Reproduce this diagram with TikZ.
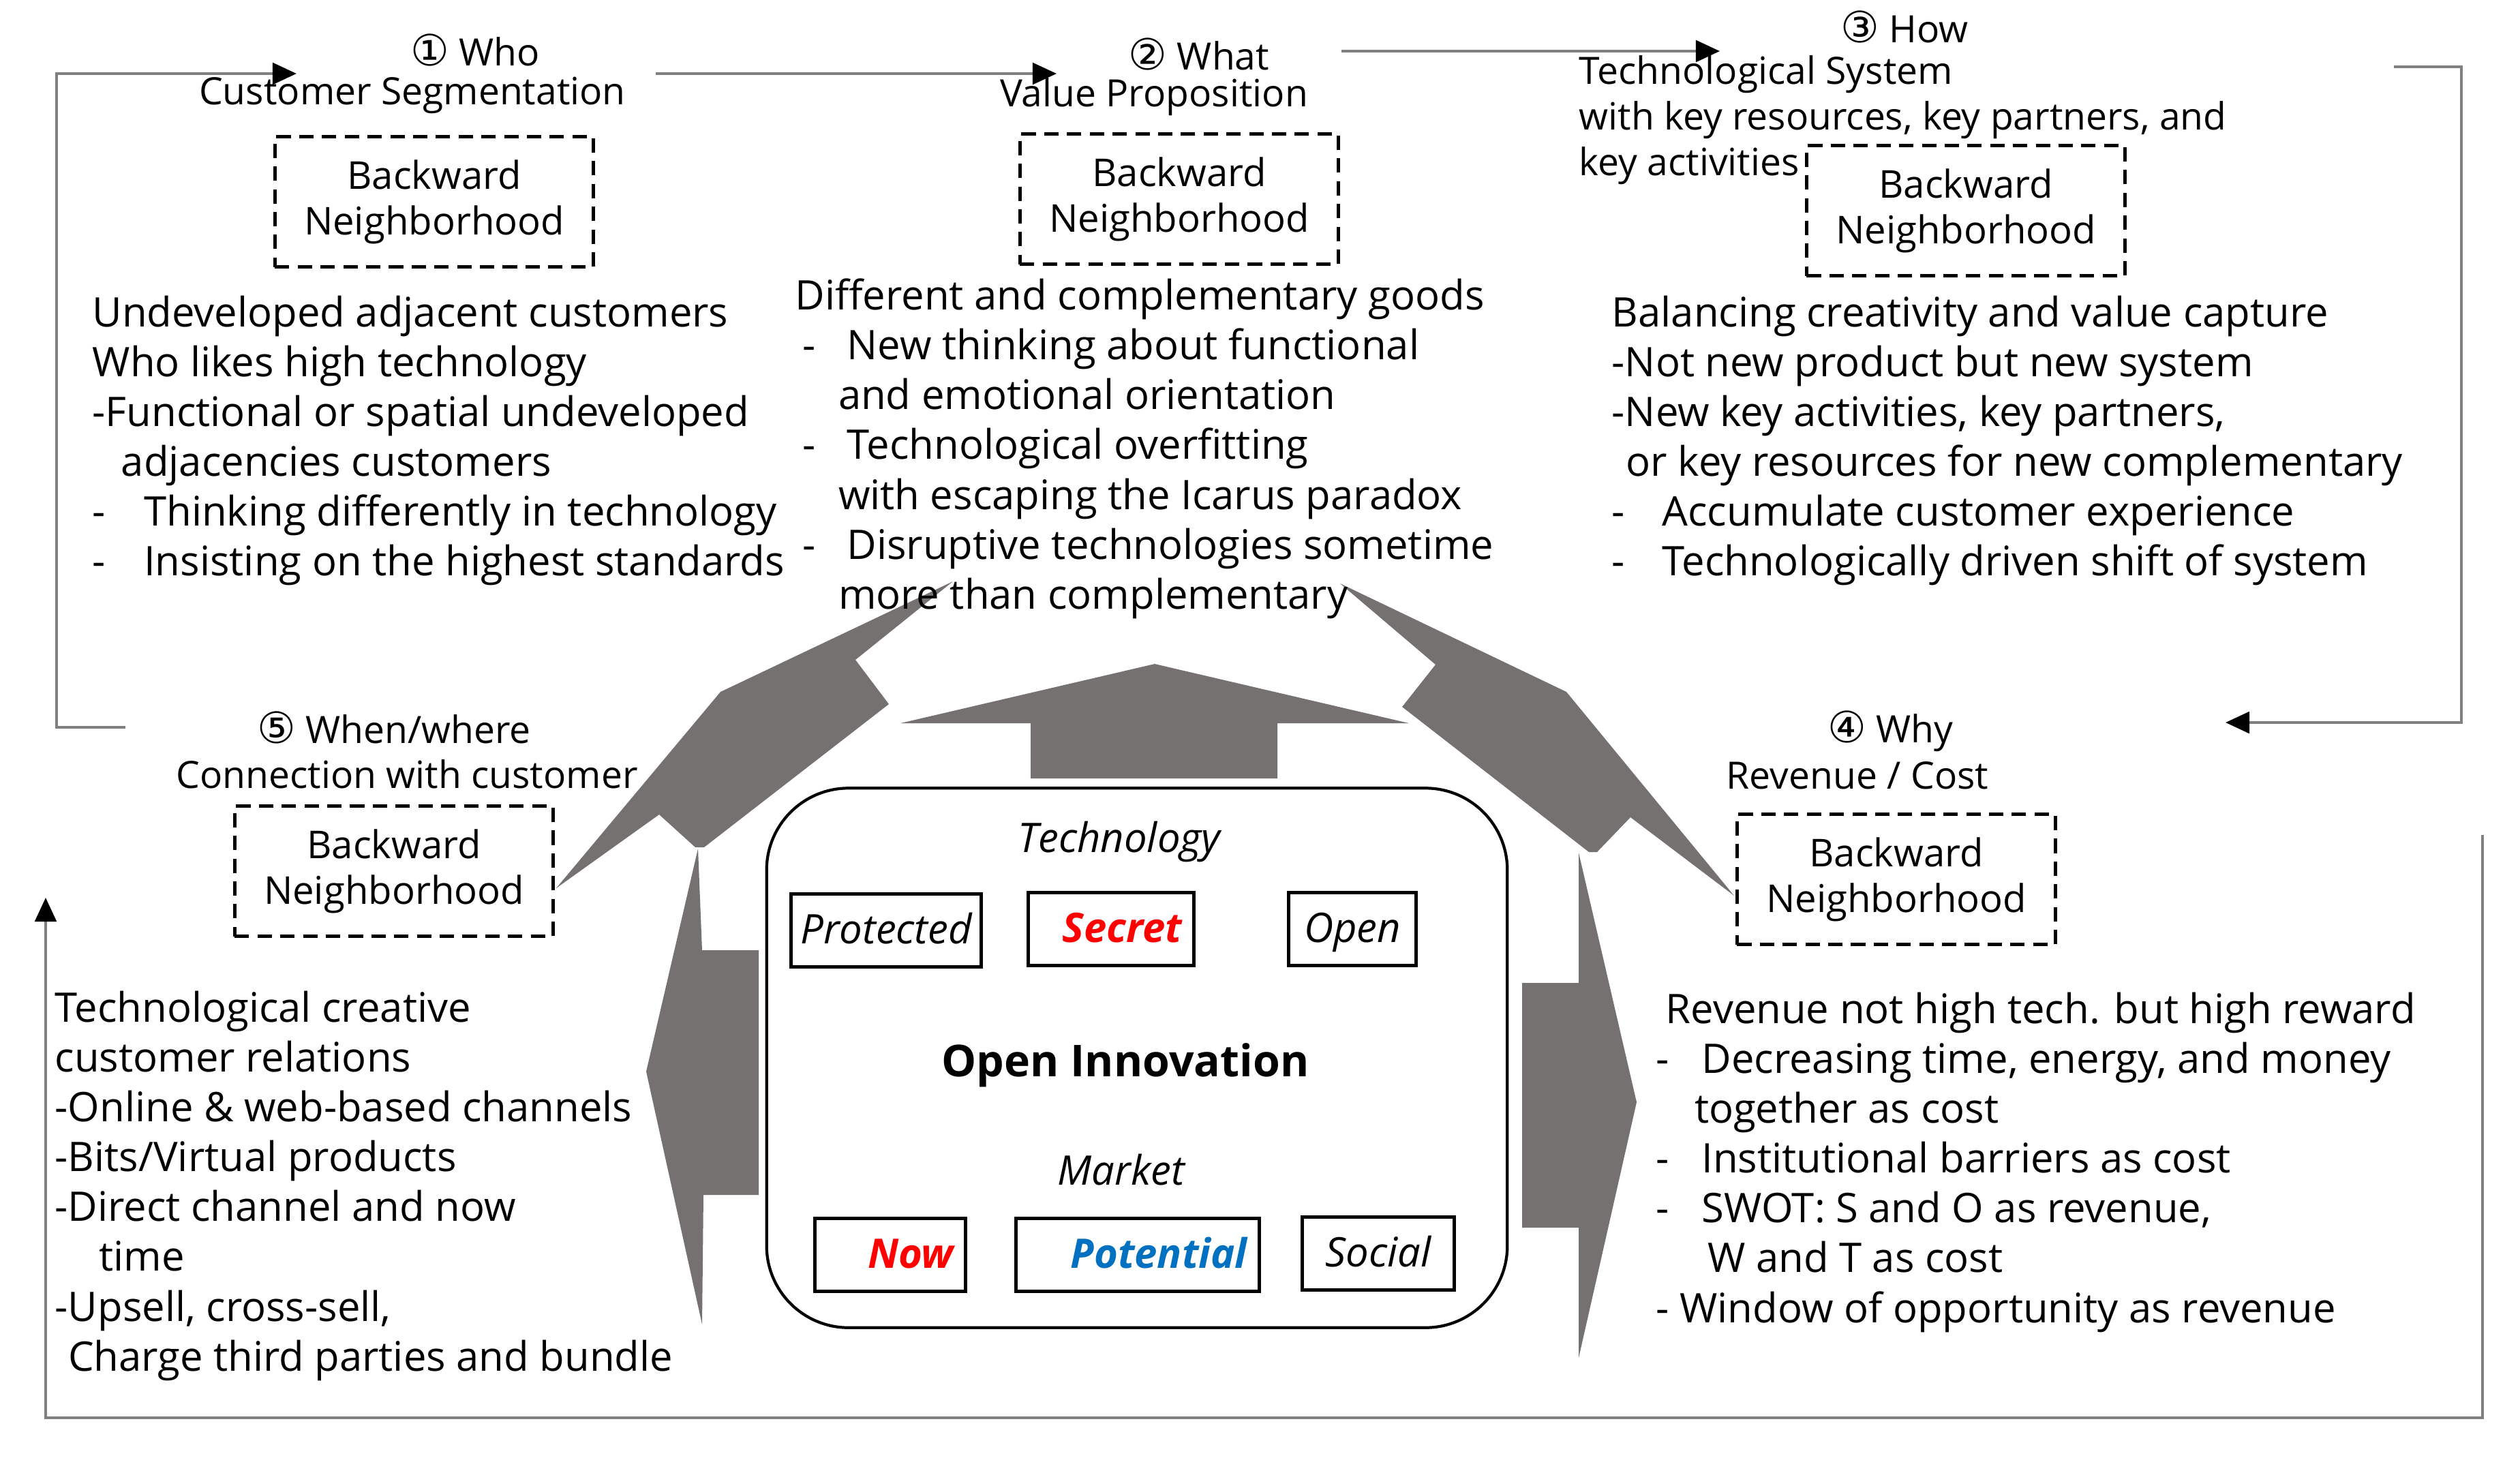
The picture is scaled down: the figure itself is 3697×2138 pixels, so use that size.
\documentclass[tikz,border=0pt]{standalone}
\usepackage{fontspec}
\setmainfont{Open Sans}
\newfontfamily\circfont{DejaVu Sans}
\usetikzlibrary{arrows.meta}
\definecolor{arrowgray}{RGB}{118,113,113}
\definecolor{linegray}{RGB}{128,128,128}
\definecolor{potblue}{RGB}{0,112,192}
\newcommand{\num}[1]{{\circfont\fontsize{18}{18}\selectfont #1}}
\newcommand{\li}[1][20pt]{\makebox[#1][l]{-}}

\begin{document}
\begin{tikzpicture}[x=0.01cm, y=-0.01cm,
    every node/.style={inner sep=0pt, font=\fontsize{17}{20.8}\selectfont},
    ttl/.style={font=\fontsize{15.7}{19}\selectfont},
    txt/.style={align=left, anchor=north west},
    bwd/.style={draw, dash pattern=on 6pt off 3.5pt, line width=1.4pt, minimum width=4.67cm, minimum height=1.91cm, align=center, font=\fontsize{16}{19}\selectfont},
    cell/.style={draw, line width=1.4pt, minimum height=1.07cm, text height=13pt, text depth=2pt, font=\fontsize{17}{20}\selectfont\itshape},
    flow/.style={draw=linegray, line width=1.1pt, -{Triangle[length=10pt,width=9pt,color=black]}}]

  \useasboundingbox (0,0) rectangle (3697,2138);

  \fill[arrowgray] (1113,1394) -- (1030,1394) -- (1024,1245) -- (948,1572) -- (1030,1943) -- (1032,1753) -- (1113,1753) -- cycle;
  \fill[arrowgray] (2233,1442) -- (2316,1442) -- (2316,1251) -- (2401,1617) -- (2316,1992) -- (2316,1801) -- (2233,1801) -- cycle;
  \fill[arrowgray] (1512,1142) -- (1512,1061) -- (1321,1061) -- (1694,974) -- (2067,1061) -- (1874,1061) -- (1874,1142) -- cycle;
  \fill[arrowgray] (1398,853) -- (1057,1015) -- (816,1303) -- (967,1195) -- (1020,1243) -- (1033,1243) -- (1304,1033) -- (1255,968) -- cycle;
  \fill[arrowgray] (1966,856) -- (2298,1015) -- (2544,1314) -- (2392,1199) -- (2343,1250) -- (2331,1250) -- (2057,1037) -- (2106,975) -- cycle;

  \node[draw, line width=1.2pt, rounded corners=1.2cm, minimum width=10.86cm, minimum height=7.91cm] (core) at (1668,1552) {};
  \node[font=\fontsize{17}{20}\selectfont\itshape] (tech) at (1642,1235) {Technology};
  \node[cell, minimum width=2.79cm] (prot) at (1300,1365) {Protected};
  \node[cell, text width=2.08cm, inner xsep=5pt, align=right, text=red, font=\fontsize{17}{20}\selectfont\bfseries\itshape] (secret) at (1630,1363) {Secret};
  \node[cell, minimum width=1.87cm] (open) at (1984,1363) {Open};
  \node[font=\fontsize{18.3}{22}\selectfont\bfseries] (oi) at (1651,1563) {Open Innovation};
  \node[font=\fontsize{17}{20}\selectfont\itshape] (market) at (1645,1716) {Market};
  \node[cell, text width=1.86cm, inner xsep=5pt, align=right, text=red, font=\fontsize{17}{20}\selectfont\bfseries\itshape] (now) at (1306,1841) {Now};
  \node[cell, text width=3.21cm, inner xsep=5pt, align=right, text=potblue, font=\fontsize{17}{20}\selectfont\bfseries\itshape] (pot) at (1669,1841) {Potential};
  \node[cell, minimum width=2.23cm] (social) at (2022,1839) {Social};

  \node[ttl] (who) at (697,73) {\num{①} Who};
  \node[ttl] (seg) at (605,140) {Customer Segmentation};
  \node[bwd] (b1) at (637,296) {Backward\\Neighborhood};
  \node[txt] (t1) at (135,433) {Undeveloped adjacent customers\\
    Who likes high technology\\
    -Functional or spatial undeveloped\\
    \hspace*{12pt}adjacencies customers\\
    \li[21.5pt]Thinking differently in technology\\
    \li[21.5pt]Insisting on the highest standards};

  \node[ttl] (what) at (1759,79) {\num{②} What};
  \node[ttl] (val) at (1693,142) {Value Proposition};
  \node[bwd] (b2) at (1730,292) {Backward\\Neighborhood};
  \node[txt] (t2) at (1166,408) {Different and complementary goods\\
    \hspace*{3pt}\li[18.6pt]New thinking about functional\\
    \hspace*{18pt}and emotional orientation\\
    \hspace*{3pt}\li[18.6pt]Technological overfitting\\
    \hspace*{18pt}with escaping the Icarus paradox\\
    \hspace*{3pt}\li[18.6pt]Disruptive technologies sometime\\
    \hspace*{18pt}more than complementary};

  \node[ttl] (how) at (2794,39) {\num{③} How};
  \node[txt, ttl] (sys) at (2316,81) {Technological System\\
    with key resources, key partners, and\\
    key activities};
  \node[bwd] (b3) at (2884,309) {Backward\\Neighborhood};
  \node[txt] (t3) at (2364,433) {Balancing creativity and value capture\\
    -Not new product but new system\\
    -New key activities, key partners,\\
    \hspace*{6pt}or key resources for new complementary\\
    \li[21pt]Accumulate customer experience\\
    \li[21pt]Technologically driven shift of system};

  \node[ttl] (why) at (2773,1073) {\num{④} Why};
  \node[ttl] (rev) at (2725,1138) {Revenue / Cost};
  \node[bwd] (b4) at (2782,1290) {Backward\\Neighborhood};
  \node[txt] (t4) at (2429,1455) {\hspace*{4pt}Revenue not high tech. but high reward\\
    \li[19pt]Decreasing time, energy, and money\\
    \hspace*{16pt}together as cost\\
    \li[19pt]Institutional barriers as cost\\
    \li[19pt]SWOT: S and O as revenue,\\
    \hspace*{21.5pt}W and T as cost\\
    - Window of opportunity as revenue};

  \node[ttl] (when) at (578,1067) {\num{⑤} When/where};
  \node[ttl] (conn) at (597,1136) {Connection with customer};
  \node[bwd] (b5) at (578,1278) {Backward\\Neighborhood};
  \node[txt] (t5) at (80,1453) {Technological creative\\
    customer relations\\
    -Online \& web-based channels\\
    -Bits/Virtual products\\
    -Direct channel and now\\
    \hspace*{18.5pt}time\\
    -Upsell, cross-sell,\\
    \hspace*{5.5pt}Charge third parties and bundle};

  \coordinate (o5) at (184,1067);
  \coordinate (i1) at (435,108);
  \coordinate (o1) at (962,108);
  \coordinate (i2) at (1550,108);
  \coordinate (o2) at (1968,75);
  \coordinate (i3) at (2523,75);
  \coordinate (o3) at (3512,98);
  \coordinate (i4) at (3265,1060);
  \coordinate (o4) at (3642,1225);
  \coordinate (i5) at (67,1317);

  \draw[flow] (o5) -- (83,1067) -- (83,108) -- (i1);
  \draw[flow] (o1) -- (i2);
  \draw[flow] (o2) -- (i3);
  \draw[flow] (o3) -- (3611,98) -- (3611,1060) -- (i4);
  \draw[flow] (o4) -- (3642,2080) -- (67,2080) -- (i5);

\end{tikzpicture}
\end{document}
